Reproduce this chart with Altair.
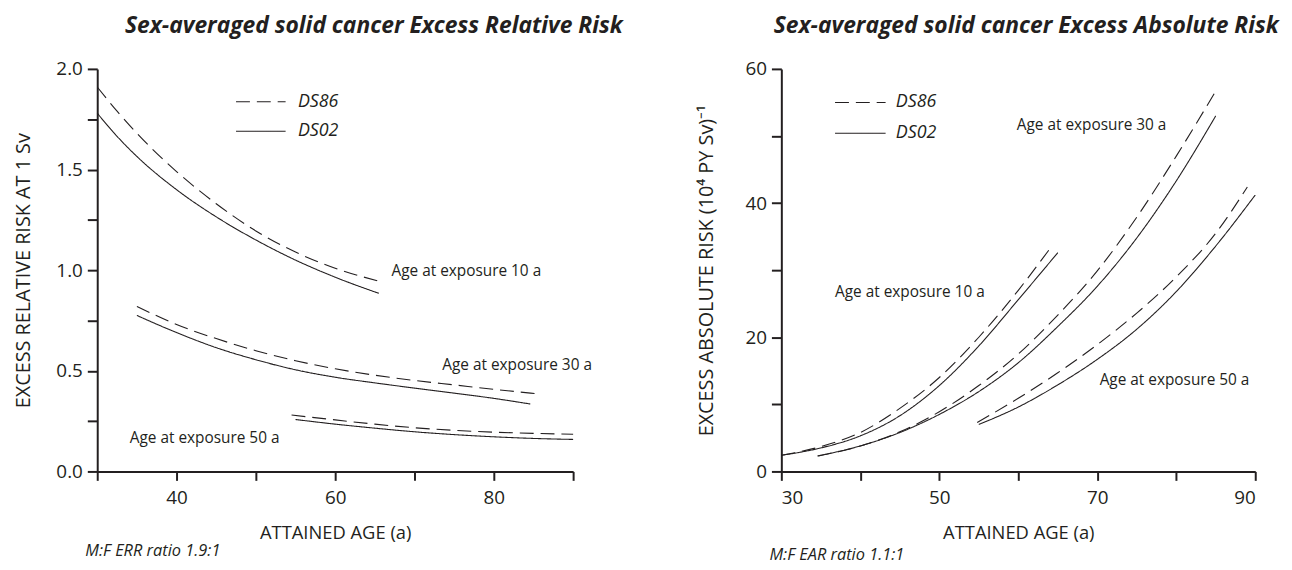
import altair as alt
import pandas as pd

FONT = "Open Sans"
INK = "#231f20"

# ---------------- Excess Relative Risk (left panel) ----------------
ERR_AGE_10_DS86 = [30, 32.5, 35, 40, 45, 50, 55, 60, 65.3]
ERR_VAL_10_DS86 = [1.91, 1.79, 1.68, 1.49, 1.33, 1.195, 1.09, 1.01, 0.947]
ERR_AGE_10_DS02 = [30, 32.5, 35, 40, 45, 50, 55, 60, 65.5]
ERR_VAL_10_DS02 = [1.78, 1.665, 1.565, 1.40, 1.265, 1.15, 1.05, 0.965, 0.885]

ERR_AGE_30_DS86 = [35, 40, 45, 50, 55, 60, 65, 70, 75, 80, 85.2]
ERR_VAL_30_DS86 = [0.82, 0.73, 0.66, 0.60, 0.55, 0.51, 0.478, 0.452, 0.43, 0.408, 0.387]
ERR_AGE_30_DS02 = [35, 40, 45, 50, 55, 60, 65, 70, 75, 80, 84.6]
ERR_VAL_30_DS02 = [0.775, 0.69, 0.615, 0.555, 0.505, 0.468, 0.44, 0.414, 0.389, 0.363, 0.335]

ERR_AGE_50_DS86 = [54.5, 60, 65, 70, 75, 80, 85, 90]
ERR_VAL_50_DS86 = [0.28, 0.256, 0.235, 0.217, 0.204, 0.195, 0.189, 0.185]
ERR_AGE_50_DS02 = [55, 60, 65, 70, 75, 80, 85, 90]
ERR_VAL_50_DS02 = [0.258, 0.235, 0.215, 0.197, 0.183, 0.172, 0.164, 0.159]

# ---------------- Excess Absolute Risk (right panel) ----------------
EAR_AGE_10_DS86 = [30, 35, 40, 45, 50, 55, 60, 64]
EAR_VAL_10_DS86 = [2.4, 3.7, 5.8, 9.4, 14.0, 20.0, 27.0, 33.2]
EAR_AGE_10_DS02 = [30, 35, 40, 45, 50, 55, 60, 65]
EAR_VAL_10_DS02 = [2.4, 3.5, 5.3, 8.3, 12.8, 18.7, 25.6, 32.6]

EAR_AGE_30_DS86 = [34.6, 40, 45, 50, 55, 60, 65, 70, 75, 80, 85]
EAR_VAL_30_DS86 = [2.3, 3.8, 5.9, 8.9, 12.8, 17.5, 23.3, 29.9, 37.9, 47.0, 56.7]
EAR_AGE_30_DS02 = [34.6, 40, 45, 50, 55, 60, 65, 70, 75, 80, 85]
EAR_VAL_30_DS02 = [2.3, 3.8, 5.8, 8.5, 11.9, 16.2, 21.6, 27.6, 34.8, 43.3, 53.0]

EAR_AGE_50_DS86 = [54.8, 60, 65, 70, 75, 80, 85, 89]
EAR_VAL_50_DS86 = [7.3, 10.9, 14.7, 18.9, 23.6, 29.0, 35.5, 42.4]
EAR_AGE_50_DS02 = [55, 60, 65, 70, 75, 80, 85, 90]
EAR_VAL_50_DS02 = [7.0, 9.6, 12.9, 16.7, 21.2, 26.8, 33.6, 41.2]

# ---------------- Text ----------------
DOSES = ["DS86", "DS02"]
ANN_TEXT = ["Age at exposure 10 a", "Age at exposure 30 a", "Age at exposure 50 a"]
ERR_ANN_AGE = [67.1, 73.5, 34.1]
ERR_ANN_VAL = [0.995, 0.527, 0.164]
EAR_ANN_AGE = [36.8, 59.8, 70.3]
EAR_ANN_VAL = [26.8, 51.7, 13.6]

ERR_LEG_AGE = [47.5, 53.75, 55.3]   # line start, line end, text
ERR_LEG_VAL = [1.837, 1.690]
EAR_LEG_AGE = [36.8, 43.2, 44.5]
EAR_LEG_VAL = [55.0, 50.4]

TITLE_ERR = "Sex-averaged solid cancer Excess Relative Risk"
TITLE_EAR = "Sex-averaged solid cancer Excess Absolute Risk"
YTITLE_ERR = "EXCESS RELATIVE RISK AT 1 Sv"
YTITLE_EAR = "EXCESS ABSOLUTE RISK (10\u2074 PY Sv)\u207b\u00b9"
XTITLE = "ATTAINED AGE (a)"
NOTE_ERR = "M:F ERR ratio 1.9:1"
NOTE_EAR = "M:F EAR ratio 1.1:1"


def series(exposure, dose, ages, vals):
    return pd.DataFrame({"exposure": exposure, "dose": dose, "age": ages, "value": vals})


err_df = pd.concat([
    series(10, "DS86", ERR_AGE_10_DS86, ERR_VAL_10_DS86),
    series(10, "DS02", ERR_AGE_10_DS02, ERR_VAL_10_DS02),
    series(30, "DS86", ERR_AGE_30_DS86, ERR_VAL_30_DS86),
    series(30, "DS02", ERR_AGE_30_DS02, ERR_VAL_30_DS02),
    series(50, "DS86", ERR_AGE_50_DS86, ERR_VAL_50_DS86),
    series(50, "DS02", ERR_AGE_50_DS02, ERR_VAL_50_DS02),
])
ear_df = pd.concat([
    series(10, "DS86", EAR_AGE_10_DS86, EAR_VAL_10_DS86),
    series(10, "DS02", EAR_AGE_10_DS02, EAR_VAL_10_DS02),
    series(30, "DS86", EAR_AGE_30_DS86, EAR_VAL_30_DS86),
    series(30, "DS02", EAR_AGE_30_DS02, EAR_VAL_30_DS02),
    series(50, "DS86", EAR_AGE_50_DS86, EAR_VAL_50_DS86),
    series(50, "DS02", EAR_AGE_50_DS02, EAR_VAL_50_DS02),
])

DASH = alt.StrokeDash("dose:N", scale=alt.Scale(domain=DOSES, range=[[14, 7], [1, 0]]), legend=None)


def panel(df, ann_age, ann_val, leg_age, leg_val, note, title, title_dx,
          x_expr, y_max, y_step, y_expr, y_title, y_title_pad, note_y, width, height):
    x_enc = alt.X(
        "age:Q",
        scale=alt.Scale(domain=[30, 90], nice=False, zero=False),
        axis=alt.Axis(values=list(range(30, 91, 10)), labelExpr=x_expr, title=XTITLE,
                      tickSize=9, labelPadding=8, titlePadding=17, titleFontSize=18.5),
    )
    n = int(round(y_max / y_step))
    y_enc = alt.Y(
        "value:Q",
        scale=alt.Scale(domain=[0, y_max], nice=False, zero=True),
        axis=alt.Axis(values=[round(i * y_step, 4) for i in range(n + 1)], labelExpr=y_expr,
                      title=y_title, tickSize=10, labelPadding=5, titlePadding=y_title_pad),
    )
    lines = alt.Chart(df).mark_line(color=INK, strokeWidth=1.1, interpolate="monotone").encode(
        x=x_enc, y=y_enc, strokeDash=DASH, detail="exposure:N"
    )
    ann = alt.Chart(pd.DataFrame({"age": ann_age, "value": ann_val, "label": ANN_TEXT})).mark_text(
        align="left", baseline="middle", font=FONT, fontSize=15.5, color=INK
    ).encode(x="age:Q", y="value:Q", text="label:N")
    leg_df = pd.DataFrame({"dose": DOSES, "age": [leg_age[0]] * 2, "age2": [leg_age[1]] * 2,
                           "tx": [leg_age[2]] * 2, "value": leg_val})
    leg_lines = alt.Chart(leg_df).mark_rule(color=INK, strokeWidth=1.1).encode(
        x="age:Q", x2="age2:Q", y="value:Q", strokeDash=DASH
    )
    leg_text = alt.Chart(leg_df).mark_text(
        align="left", baseline="middle", font=FONT, fontSize=18, fontStyle="italic", color=INK
    ).encode(x="tx:Q", y="value:Q", text="dose:N")
    foot = alt.Chart(pd.DataFrame({"note": [note]})).mark_text(
        align="left", baseline="middle", font=FONT, fontSize=16.5, fontStyle="italic", color=INK
    ).encode(x=alt.value(-12), y=alt.value(note_y), text="note:N")
    return alt.layer(lines, ann, leg_lines, leg_text, foot).properties(
        width=width, height=height,
        title=alt.TitleParams(text=title, dx=title_dx, offset=22),
    )


left = panel(err_df, ERR_ANN_AGE, ERR_ANN_VAL, ERR_LEG_AGE, ERR_LEG_VAL, NOTE_ERR, TITLE_ERR, 39,
             "datum.value % 20 == 0 ? datum.label : ''", 2.0, 0.25,
             "datum.value % 0.5 == 0 ? format(datum.value, '.1f') : ''", YTITLE_ERR, 23, 486, 480, 406)
right = panel(ear_df, EAR_ANN_AGE, EAR_ANN_VAL, EAR_LEG_AGE, EAR_LEG_VAL, NOTE_EAR, TITLE_EAR, 8,
              "(datum.value - 30) % 20 == 0 ? datum.label : ''", 60, 10,
              "datum.value % 20 == 0 ? datum.label : ''", YTITLE_EAR, 29, 490, 478, 406)

chart = alt.hconcat(left, right, spacing=73).properties(padding=5).configure_view(stroke=None).configure_axis(
    domainColor=INK, domainWidth=2, tickColor=INK, tickWidth=2, grid=False,
    labelFont=FONT, labelFontSize=19, labelColor=INK,
    titleFont=FONT, titleFontSize=20, titleFontWeight="normal", titleColor=INK,
).configure_title(
    font=FONT, fontSize=23, fontStyle="italic", fontWeight="bold", color=INK, anchor="middle"
)

chart.save("out.html", embed_options={"renderer": "svg", "actions": False})
